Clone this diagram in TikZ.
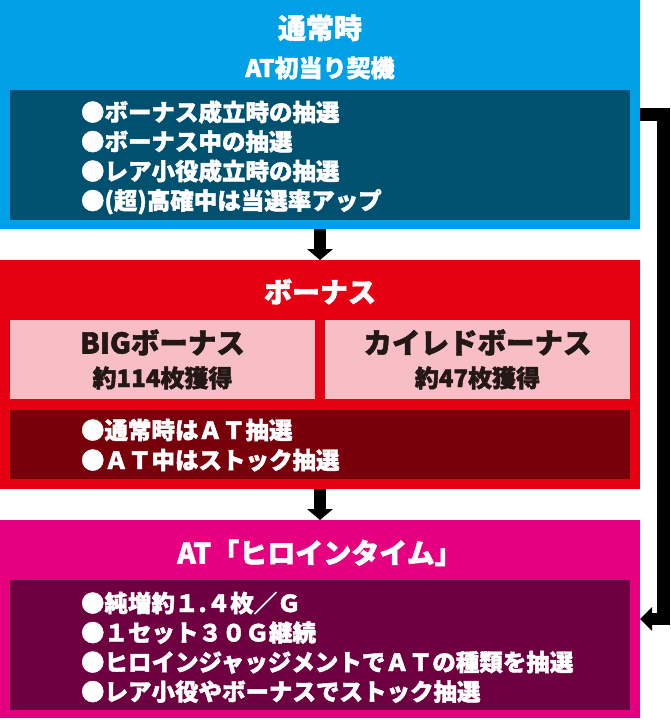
\documentclass[tikz,border=0pt]{standalone}
\usepackage{fontspec}
\setmainfont{Noto Sans CJK JP}[BoldFeatures={FakeBold=1.8}]
\usetikzlibrary{arrows.meta}
\definecolor{tsujoblue}{HTML}{00A0E6}
\definecolor{tsujodark}{HTML}{00506F}
\definecolor{bonusred}{HTML}{E50012}
\definecolor{bonuspink}{HTML}{F8BEC6}
\definecolor{bonusdark}{HTML}{77000A}
\definecolor{heroinepink}{HTML}{E4007F}
\definecolor{heroinedark}{HTML}{6E0041}
\definecolor{inkblack}{HTML}{231815}

\begin{document}
\begin{tikzpicture}
			[x=1pt,y=-1pt, every node/.style={inner sep=0pt,outer sep=0pt},
			panel/.style={rectangle,minimum width=640pt,minimum height=229pt},
			box/.style={rectangle,minimum width=620pt},
			subbox/.style={rectangle,fill=bonuspink,minimum width=305pt,minimum height=79pt},
			title/.style={anchor=base,text=white,font=\fontsize{28}{28}\selectfont\bfseries},
			lead/.style={anchor=base,text=white,font=\fontsize{24}{24}\selectfont\bfseries},
			subtitle/.style={anchor=base,text=inkblack,font=\fontsize{28.5}{28.5}\selectfont\bfseries},
			subnum/.style={anchor=base,text=inkblack,font=\fontsize{24}{24}\selectfont\bfseries},
			body/.style={anchor=base west,text=white,font=\fontsize{23.5}{23.5}\selectfont\bfseries},
			flow/.style={line width=12pt,-{Triangle[width=26pt,length=11pt,line width=0pt]}},
			jump/.style={line width=12.5pt,line join=miter,-{Triangle[width=24pt,length=12pt,line width=0pt]}}]
			\useasboundingbox (0,0) rectangle (670,720);
			
			% 通常時
			\node[panel,fill=tsujoblue] (tsujo) at (320,114.5) {};
			\node[box,fill=tsujodark,minimum height=130pt] (tsujoIn) at (320,155) {};
			\node[title] (tsujoT) at (320,38.5) {通常時};
			\node[lead] (tsujoL) at (320,77) {AT初当り契機};
			\foreach \n/\y/\txt in {1/121/●ボーナス成立時の抽選,2/150.5/●ボーナス中の抽選,3/180/●レア小役成立時の抽選,4/209.5/●(超)高確中は当選率アップ}
			\node[body] (tsujoTxt\n) at (81,\y) {\txt};
			
			% ボーナス
			\node[panel,fill=bonusred] (bonus) at (320,374.5) {};
			\node[title] (bonusT) at (320,302.5) {ボーナス};
			\node[subbox] (big) at (162.5,359.5) {};
			\node[subbox] (kaired) at (477.5,359.5) {};
			\node[subtitle] (bigT) at (162.5,353.5) {BIGボーナス};
			\node[subnum] (bigN) at (162.5,387) {約114枚獲得};
			\node[subtitle] (kairedT) at (477.5,353.5) {カイレドボーナス};
			\node[subnum] (kairedN) at (477.5,387) {約47枚獲得};
			\node[box,fill=bonusdark,minimum height=69pt] (bonusIn) at (320,444.5) {};
			\foreach \n/\y/\txt in {1/439/●通常時はＡＴ抽選,2/469/●ＡＴ中はストック抽選}
			\node[body] (bonusTxt\n) at (81,\y) {\txt};
			
			% AT
			\node[panel,fill=heroinepink,minimum height=198pt] (heroine) at (320,619) {};
			\node[title] (heroineT) at (320,563.5) {AT「ヒロインタイム」};
			\node[box,fill=heroinedark,minimum height=130pt] (heroineIn) at (320,645) {};
			\foreach \n/\y/\txt in {1/612/●純増約１.４枚／Ｇ,2/641.5/●１セット３０Ｇ継続,3/671/●ヒロインジャッジメントでＡＴの種類を抽選,4/700.5/●レア小役やボーナスでストック抽選}
			\node[body] (heroineTxt\n) at (81,\y) {\txt};
			
			\draw[flow] (tsujo.south) -- (bonus.north);
			\draw[flow] (bonus.south) -- (heroine.north);
			\draw[jump] (tsujo.east) -- ++(23.5,0) |- (heroine.east);
			\end{tikzpicture}
\end{document}
